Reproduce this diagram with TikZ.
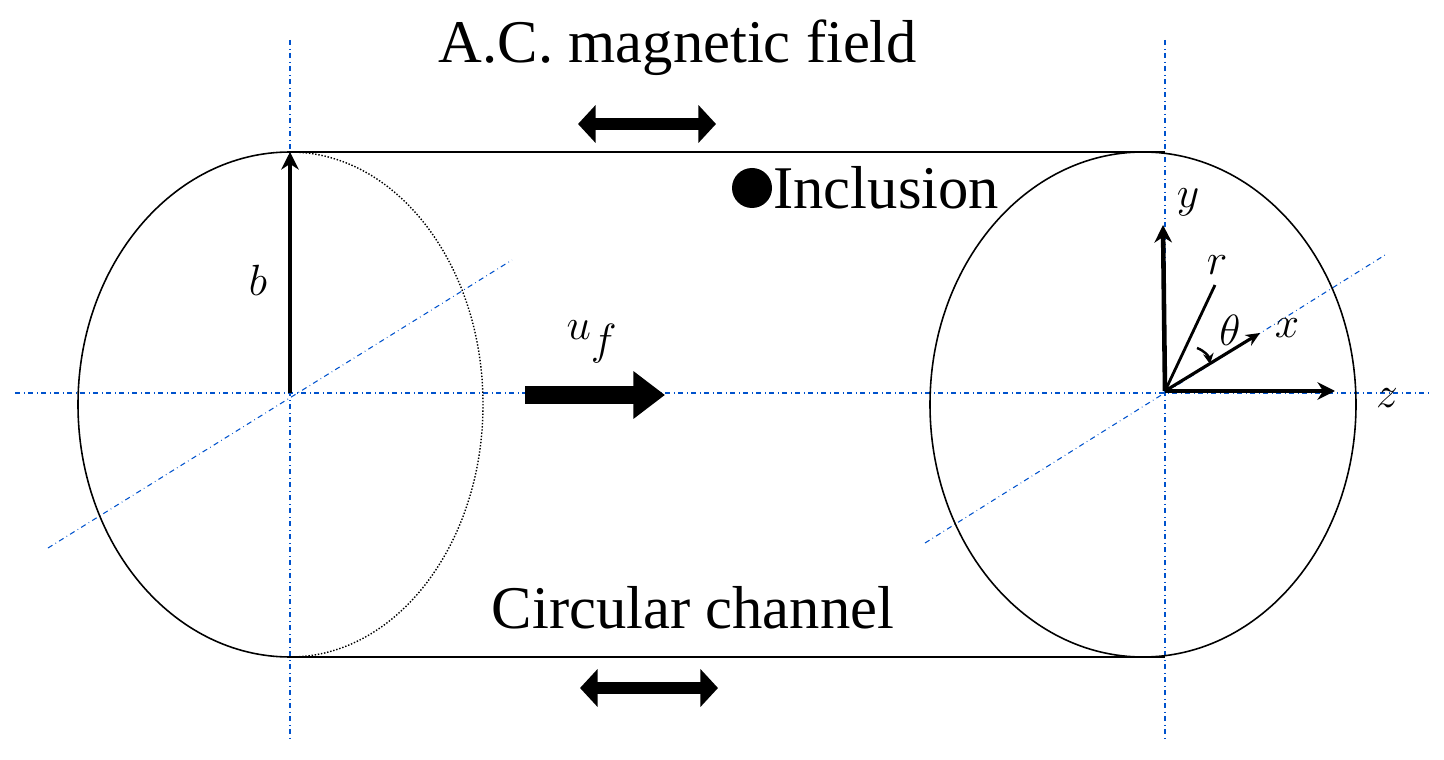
\documentclass[tikz,border=0pt]{standalone}
\usepackage{fontspec}
\setmainfont{Liberation Serif}
\usetikzlibrary{arrows.meta}
\tikzset{
  axis/.style={blue!60!cyan!80!black,dash dot,line width=0.6pt},
  bold/.style={line width=2.6pt,-{Stealth[length=10pt,width=10pt]}},
  dbl/.style={line width=7pt,{Triangle[length=10pt,width=21pt]}-{Triangle[length=10pt,width=21pt]}},
  txt/.style={font=\fontsize{34.5}{37}\selectfont,inner sep=0pt},
  mth/.style={font=\fontsize{37}{39}\selectfont,inner sep=0pt}
}
\begin{document}
\begin{tikzpicture}[x=0.02cm,y=-0.02cm]
\useasboundingbox (0,0) rectangle (1444,760);
% axes
\coordinate (hl) at (15,393); \coordinate (hr) at (1432,393);
\draw[axis] (hl) -- (hr);
\draw[axis] (290,40) -- (290,738);
\draw[axis] (1165,40) -- (1165,738);
\draw[axis] (48,548) -- (512,260);
\draw[axis] (925,543) -- (1385,255);
% channel
\coordinate (lt) at (290,152); \coordinate (lb) at (290,657);
\coordinate (rt) at (1165,152); \coordinate (rb) at (1165,657);
\draw[line width=0.9pt] (lt) -- (rt) (lb) -- (rb);
\draw[line width=0.9pt] (lt) arc[start angle=-90,end angle=-270,x radius=212,y radius=252.5];
\draw[densely dotted,line width=0.8pt] (lt) arc[start angle=-90,end angle=90,x radius=193,y radius=252.5];
\draw[line width=0.9pt] (1143,404.5) ellipse[x radius=213,y radius=252.5];
% radius b
\coordinate (lo) at (290,393);
\draw[bold] (lo) -- (lt);
\node[mth] (b) at (258,280) {$b$};
% flow
\coordinate (fs) at (525,395); \coordinate (fe) at (665,395);
\draw[line width=10pt,-{Triangle[length=18pt,width=26pt]}] (fs) -- (fe);
\node[mth] (uf) at (592,342) {$u_f$};
% field
\node[txt] (ac) at (678,48) {A.C. magnetic field};
\node[txt] (cc) at (693,608) {Circular channel};
\coordinate (a1) at (578,124); \coordinate (a2) at (716,124);
\coordinate (b1) at (580,688); \coordinate (b2) at (718,688);
\draw[dbl] (a1) -- (a2);
\draw[dbl] (b1) -- (b2);
\fill (752,188) circle[radius=20] node[txt,right=12pt] (inc) {Inclusion};
% coordinates
\coordinate (o) at (1165,391);
\coordinate (ye) at (1163,225); \coordinate (ze) at (1335,391);
\coordinate (xe) at (1260,333); \coordinate (re) at (1215,285);
\draw[bold] (o) -- (ye);
\draw[bold] (o) -- (ze);
\draw[line width=1.8pt,-{Stealth[length=8pt,width=7pt]}] (o) -- (xe);
\draw[line width=1.6pt] (o) -- (re);
\draw[line width=1.4pt,-{Stealth[length=6pt,width=6pt]}] (1197,348) to[bend left=30] (1210,364);
\node[mth] (y) at (1188,202) {$y$};
\node[mth] (r) at (1217,265) {$r$};
\node[mth] (th) at (1230,330) {$\theta$};
\node[mth] (x) at (1287,328) {$x$};
\node[mth] (z) at (1387,398) {$z$};
\end{tikzpicture}
\end{document}
